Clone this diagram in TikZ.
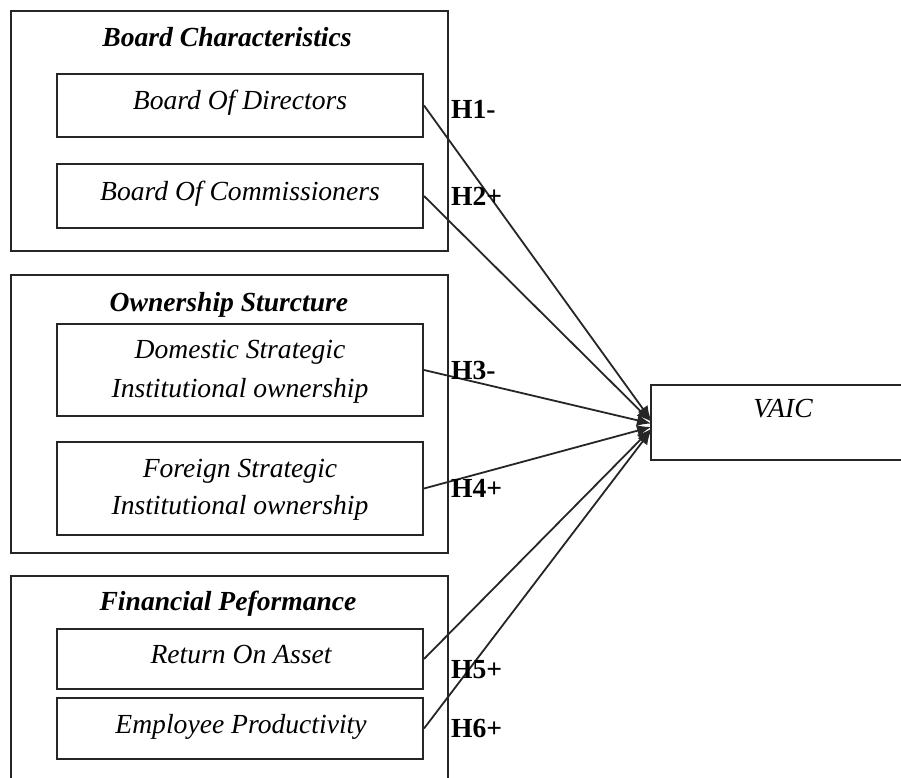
\documentclass[tikz,border=0pt]{standalone}
\usepackage{fontspec}
\setmainfont{Liberation Serif}
\usetikzlibrary{arrows.meta}
\tikzset{
  box/.style={draw=black!85, line width=2pt, rectangle, inner sep=0pt},
  itxt/.style={font=\fontsize{27.6}{32}\selectfont\itshape, anchor=base, inner sep=0pt},
  ttl/.style={font=\fontsize{27.6}{32}\selectfont\bfseries\itshape, anchor=base, inner sep=0pt},
  hlab/.style={font=\fontsize{27.6}{32}\selectfont\bfseries, anchor=base west, inner sep=0pt},
  conn/.style={draw=black!85, line width=1.8pt, -{Latex[length=14pt,width=12pt]}}
}
\begin{document}
\begin{tikzpicture}[x=1pt,y=-1pt]
\useasboundingbox (0,0) rectangle (901,778);
\fill[white] (0,0) rectangle (901,778);
\clip (0,0) rectangle (901,778);
% outer group boxes
\node[box, minimum width=437pt, minimum height=240pt] (g1) at (229.5,131) {};
\node[box, minimum width=437pt, minimum height=278pt] (g2) at (229.5,414) {};
\node[box, minimum width=437pt, minimum height=240pt] (g3) at (229.5,696) {};
% inner boxes
\node[box, minimum width=366pt, minimum height=63pt] (bod) at (240,105.5) {};
\node[box, minimum width=366pt, minimum height=64pt] (boc) at (240,196) {};
\node[box, minimum width=366pt, minimum height=92pt] (dsi) at (240,370) {};
\node[box, minimum width=366pt, minimum height=93pt] (fsi) at (240,488.5) {};
\node[box, minimum width=366pt, minimum height=60pt] (roa) at (240,659) {};
\node[box, minimum width=366pt, minimum height=61pt] (emp) at (240,728.5) {};
\node[box, minimum width=270pt, minimum height=75pt] (vaic) at (786,422.5) {};
% texts
\node[ttl] (t1) at (227,47) {Board Characteristics};
\node[ttl] (t2) at (229,311) {Ownership Sturcture};
\node[ttl] (t3) at (228,610) {Financial Peformance};
\node[itxt] (x1) at (240,110) {Board Of Directors};
\node[itxt] (x2) at (240,200) {Board Of Commissioners};
\node[itxt] (x3a) at (240,358) {Domestic Strategic};
\node[itxt] (x3b) at (240,397) {Institutional ownership};
\node[itxt] (x4a) at (240,477) {Foreign Strategic};
\node[itxt] (x4b) at (240,514) {Institutional ownership};
\node[itxt] (x5) at (241,663) {Return On Asset};
\node[itxt] (x6) at (241,733) {Employee Productivity};
\node[itxt] (xv) at (783,417) {VAIC};
% end points on VAIC
\coordinate (e1) at (651,420);
\coordinate (e2) at (651,421.5);
\coordinate (e3) at (651,423.5);
\coordinate (e4) at (651,427);
\coordinate (e5) at (651,429);
\coordinate (e6) at (651,430.5);
% connectors
\draw[conn] (bod.east) -- (e1);
\draw[conn] (boc.east) -- (e2);
\draw[conn] (dsi.east) -- (e3);
\draw[conn] (fsi.east) -- (e4);
\draw[conn] (roa.east) -- (e5);
\draw[conn] (emp.east) -- (e6);
% labels
\node[hlab] (h1) at (451,119) {H1-};
\node[hlab] (h2) at (451,205) {H2+};
\node[hlab] (h3) at (451,379) {H3-};
\node[hlab] (h4) at (451,497) {H4+};
\node[hlab] (h5) at (451,678) {H5+};
\node[hlab] (h6) at (451,737) {H6+};
\end{tikzpicture}
\end{document}
